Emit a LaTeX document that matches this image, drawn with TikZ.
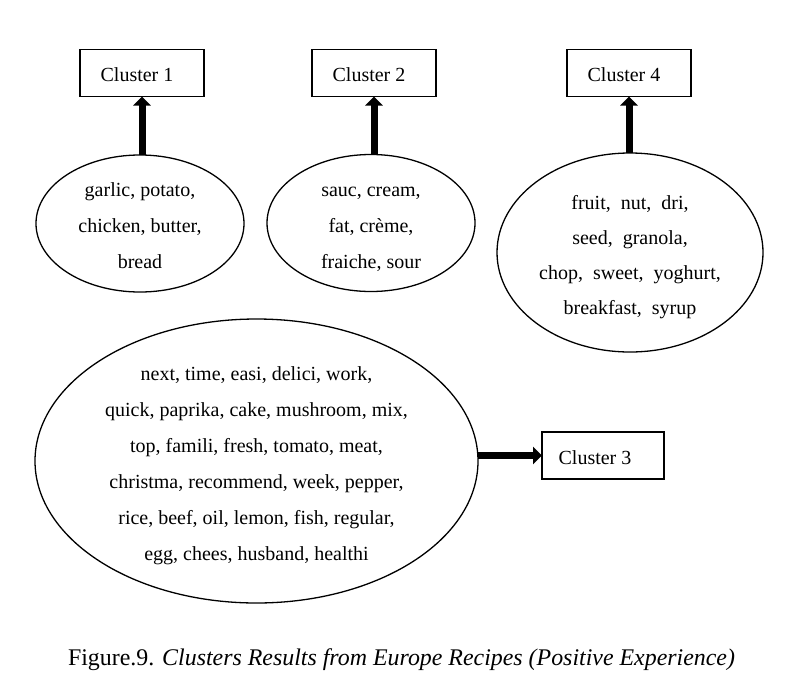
\documentclass[tikz,border=0pt]{standalone}
\usepackage{fontspec}
\setmainfont{Liberation Serif}
\usetikzlibrary{shapes.geometric,arrows.meta}
\begin{document}
\begin{tikzpicture}[x=1pt,y=-1pt,
  cbox/.style={draw,line width=1.4pt,minimum width=124pt,minimum height=47pt,inner sep=0pt,outer sep=0pt,text height=17.4pt,text depth=0pt,font=\fontsize{20}{24}\selectfont},
  cell/.style={draw,ellipse,line width=1.3pt,inner sep=0pt,outer sep=0pt},
  celltext/.style={inner sep=0pt,align=center,yshift=-2pt,font=\fontsize{20}{36}\selectfont},
  bigarrow/.style={line width=7pt,-{Triangle[length=9pt,width=17pt]}}]
\useasboundingbox (0,0) rectangle (794,688);
% cluster boxes
\node[cbox] (c1) at (142,73) {Cluster 1\hspace*{10pt}};
\node[cbox] (c2) at (374,73) {Cluster 2\hspace*{10pt}};
\node[cbox] (c4) at (629,73) {Cluster 4\hspace*{10pt}};
\node[cbox,minimum width=122pt,text height=18.4pt] (c3) at (603,455.5) {Cluster 3\hspace*{16pt}};
% ellipses
\node[cell,minimum width=208pt,minimum height=137pt] (e1) at (140,223.5) {};
\node[celltext] (t1) at (e1.center)
  {\strut garlic, potato,\\\strut chicken, butter,\\\strut bread};
\node[cell,minimum width=208pt,minimum height=137pt] (e2) at (371,223) {};
\node[celltext] (t2) at (e2.center)
  {\strut sauc, cream,\\\strut fat, crème,\\\strut fraiche, sour};
\node[cell,minimum width=266pt,minimum height=199pt] (e4) at (630,252.5) {};
\node[celltext,font=\fontsize{20}{35}\selectfont] (t4) at (e4.center)
  {\strut fruit,\ \ nut,\ \ dri,\\\strut seed,\ \ granola,\\\strut chop,\ \ sweet,\ \ yoghurt,\\\strut breakfast,\ \ syrup};
\node[cell,minimum width=443pt,minimum height=284pt] (e3) at (256.5,461) {};
\node[celltext] (t3) at (e3.center)
  {\strut next, time, easi, delici, work,\\\strut quick, paprika, cake, mushroom, mix,\\\strut top, famili, fresh, tomato, meat,\\\strut christma, recommend, week, pepper,\\\strut rice, beef, oil, lemon, fish, regular,\\\strut egg, chees, husband, healthi};
% arrows
\draw[bigarrow] (c1.south |- e1.north) -- (c1.south);
\draw[bigarrow] (c2.south |- e2.north) -- (c2.south);
\draw[bigarrow] (c4.south |- e4.north) -- (c4.south);
\draw[bigarrow] (e3.east |- c3.west) -- (c3.west);
% caption
\node[inner sep=0pt,font=\fontsize{24}{28}\selectfont] (cap) at (401.5,660)
  {\resizebox{667pt}{!}{Figure.9. \textit{Clusters Results from Europe Recipes (Positive Experience)}}};
\end{tikzpicture}
\end{document}
